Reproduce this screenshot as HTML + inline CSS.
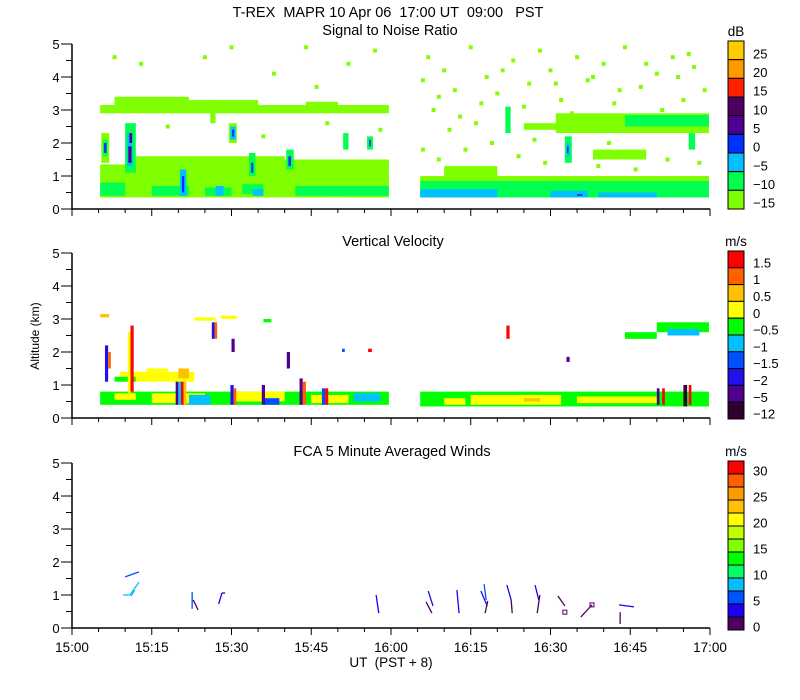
<!DOCTYPE html>
<html><head><meta charset="utf-8"><style>
html,body{margin:0;padding:0;background:#fff;}
svg{display:block;font-family:"Liberation Sans",sans-serif;}
text{fill:#000;}
</style></head><body>
<svg id="chart" width="800" height="700" viewBox="0 0 800 700" xmlns="http://www.w3.org/2000/svg">
<text x="388" y="17" font-size="14.5" text-anchor="middle" xml:space="preserve">T-REX  MAPR 10 Apr 06  17:00 UT  09:00   PST</text>
<text x="390" y="35" font-size="14.5" text-anchor="middle">Signal to Noise Ratio</text>
<text x="393" y="246" font-size="14.5" text-anchor="middle">Vertical Velocity</text>
<text x="392" y="456" font-size="14.5" text-anchor="middle">FCA 5 Minute Averaged Winds</text>
<text x="39" y="336" font-size="12" text-anchor="middle" transform="rotate(-90 39 336)">Altitude (km)</text>
<text x="391" y="667" font-size="13.5" text-anchor="middle" xml:space="preserve">UT  (PST + 8)</text>
<g id="layers"></g>
</svg>
<script>
// ---- data ----
const snrLevels = ['25','20','15','10','5','0','-5','-10','-15'];
const snrColors = ['#80ff00','#00ff50','#00c0ff','#0030ff','#500090','#500060','#ff2000','#ff9900','#ffcc00'];
const velLevels = ['1.5','1','0.5','0','-0.5','-1','-1.5','-2','-5','-12'];
const velColors = ['#300030','#500090','#2010f0','#0050ff','#00c0ff','#00ff00','#ffff00','#ffc000','#ff6000','#ff0000'];
const windLevels = ['30','','25','','20','','15','','10','','5','','0'];
const windColors = ['#500060','#2000f0','#0050ff','#00c0ff','#00ff60','#00ff00','#80ff00','#c0ff00','#ffff00','#ffc000','#ff9900','#ff6000','#ff0000'];
const xTickLabels = ['15:00','15:15','15:30','15:45','16:00','16:15','16:30','16:45','17:00'];
const yTickLabels = ['0','1','2','3','4','5'];
// SNR cells: [tStartMin, tEndMin, altLowKm, altHighKm, levelIndex]
const snrCells = [
[5.3,59.6,0.35,1.0,0],[5.3,59.6,0.95,1.35,0],[12,40,1.35,1.6,0],[40,59.6,1.3,1.5,0],
[5.3,59.6,2.9,3.15,0],[8,22,3.15,3.4,0],[22,35,3.1,3.3,0],[44,50,3.1,3.25,0],
[5.3,10,0.4,0.8,1],[15,22,0.4,0.7,1],[25,30,0.4,0.65,1],[42,59.6,0.4,0.7,1],[32,36,0.45,0.75,1],
[5.5,7,1.4,2.3,0],[5.8,6.7,1.6,2.1,1],[6,6.5,1.7,2.0,3],
[10,12,1.1,2.6,1],[10.4,11.4,1.3,2.3,2],[10.6,11.2,1.4,1.9,4],[10.8,11.3,2.0,2.3,4],
[20.3,21.5,0.4,1.2,2],[20.7,21.1,0.5,1.0,3],
[29.5,31,2.0,2.6,0],[29.8,30.8,2.1,2.5,2],[30.1,30.5,2.2,2.4,3],
[33.3,34.5,1.0,1.7,1],[33.7,34.1,1.1,1.4,3],
[40.3,41.7,1.2,1.8,1],[40.7,41.2,1.3,1.6,3],[26,27,2.6,3.3,0],
[51,52,1.8,2.3,1],[55.5,56.6,1.8,2.2,1],[55.9,56.2,1.9,2.1,3],
[27,28.5,0.4,0.7,2],[34,36,0.4,0.6,2],[49,51,0.4,0.6,1],
[65.5,119.8,0.35,1.0,0],[65.5,119.8,0.35,0.85,1],
[65.5,80,0.35,0.6,2],[90,97,0.35,0.55,2],[99,110,0.35,0.5,2],[95,96,0.4,0.45,3],
[70,80,1.0,1.3,0],[91,119.8,2.3,2.9,0],[104,119.8,2.5,2.85,1],
[81.5,82.5,2.3,3.1,1],[92.7,94,1.4,2.2,1],[93,93.6,1.6,2.0,2],[93.1,93.4,1.7,1.9,3],
[116,117.2,1.8,2.3,1],[98,108,1.5,1.8,0],[85,92,2.4,2.6,0]
];
// SNR isolated speckles: [tMin, altKm]
const snrSpeckles = [
[13,4.4],[25,4.6],[38,4.1],[46,3.7],[52,4.4],[57,4.8],[8,4.6],[30,4.9],[44,4.9],[18,2.5],[36,2.2],[48,2.6],[58,2.4],
[67,4.6],[70,4.2],[72,3.6],[75,4.9],[78,4.0],[80,3.5],[83,4.5],[86,3.8],[88,4.8],[90,4.2],
[92,3.3],[95,4.6],[97,3.9],[100,4.4],[102,3.2],[104,4.9],[107,3.7],[110,4.1],[113,4.6],[117,4.3],
[68,3.0],[71,2.4],[74,1.8],[77,3.2],[79,2.0],[84,1.6],[87,2.1],[89,1.4],[96,2.6],[99,1.3],
[101,2.0],[106,1.2],[112,1.5],[118,1.4],[66,1.8],[69,1.5],[73,2.8],[115,3.3],[119,3.6],
[66,3.9],[69,3.4],[76,2.6],[81,4.2],[85,3.1],[91,3.8],[94,2.9],[98,4.0],[103,3.6],[108,4.4],[111,3.0],[114,4.0],[116,4.7]
];
// Vertical velocity cells: [tStartMin, tEndMin, altLowKm, altHighKm, levelIndex]
const velCells = [
[5.3,59.6,0.4,0.8,5],[15,25,0.45,0.75,6],[30,40,0.5,0.8,6],[45,52,0.45,0.7,6],[22,26,0.4,0.7,4],
[8,12,0.55,0.75,6],[36,39,0.4,0.6,3],[53,58,0.5,0.75,4],
[19.5,20,0.4,1.3,1],[20,20.5,0.4,1.3,4],[20.5,21,0.4,1.3,9],[21,21.5,0.4,1.1,7],
[29.8,30.4,0.4,1.0,2],[30.4,30.9,0.4,0.9,8],[35.7,36.3,0.4,1.0,1],
[42.8,43.4,0.4,1.2,1],[43.4,44,0.4,1.1,8],[47,47.6,0.4,0.9,3],[47.6,48.2,0.4,0.9,9],
[9,23,1.1,1.4,6],[8,12,1.1,1.25,5],[14,18,1.3,1.5,6],[20,22,1.2,1.5,7],
[6.2,6.8,1.1,2.2,2],[6.8,7.3,1.5,2.0,8],[10.5,11,0.6,2.6,6],[11,11.6,0.8,2.8,9],
[26.3,26.8,2.4,2.9,2],[26.8,27.3,2.4,2.9,8],[30,30.6,2.0,2.4,1],[40.4,41,1.5,2.0,1],
[50.8,51.3,2.0,2.1,3],[55.7,56.4,2.0,2.1,9],
[5.3,7,3.05,3.15,7],[23,27,2.95,3.05,6],[28,31,3.0,3.1,6],[36,37.5,2.9,3.0,5],
[65.5,119.8,0.35,0.8,5],[75,92,0.4,0.7,6],[95,110,0.45,0.65,6],[70,74,0.4,0.6,6],[85,88,0.5,0.6,7],
[110,110.5,0.4,0.9,1],[111,111.5,0.4,0.9,9],[115,115.7,0.35,1.0,0],[116,116.5,0.4,1.0,9],
[110,119.8,2.6,2.9,5],[104,110,2.4,2.6,5],[112,118,2.5,2.7,4],
[81.7,82.3,2.4,2.8,9],[93,93.6,1.7,1.85,1]
];
// Wind barb segments: [t1Min, alt1Km, t2Min, alt2Km, colorIndex]
const windSegs = [
[10.0,1.55,12.6,1.70,2],[9.6,1.0,10.9,1.0,3],[10.9,1.0,12.6,1.39,3],[11.8,1.15,11.1,0.97,3],
[22.6,1.09,22.6,0.58,2],[22.8,0.85,23.7,0.55,0],
[27.6,0.73,28.2,1.06,1],[28.2,1.06,28.8,1.06,1],
[57.2,1.0,57.7,0.45,1],
[67.0,1.12,67.9,0.67,1],[66.6,0.79,67.7,0.45,0],
[72.4,1.15,72.8,0.45,1],
[77.5,1.33,77.9,0.85,2],[76.9,1.12,78.1,0.67,1],[78.2,0.82,77.7,0.45,0],
[81.8,1.30,82.6,0.85,1],[82.6,0.85,82.8,0.45,0],
[87.1,1.30,87.8,0.85,1],[88.0,1.0,87.5,0.45,0],
[91.4,0.97,92.7,0.67,0],
[97.8,0.70,95.7,0.33,0],
[102.9,0.70,105.7,0.64,1],[103.1,0.48,103.1,0.12,0]
];
// Small station squares (calm winds): [tMin, altKm]
const windCalm = [[92.7,0.48],[97.8,0.70]];

// ---- scales ----
const NS='http://www.w3.org/2000/svg';
const root=document.getElementById('layers');
const X0=72,X1=710,PXKM=33;
const panels=[{base:209,name:'snr'},{base:418,name:'velocity'},{base:628,name:'winds'}];
function xs(t){return X0+t*(X1-X0)/120;}
function ys(a,p){return p.base-a*PXKM;}
function mk(tag,attrs,parent){const e=document.createElementNS(NS,tag);for(const k in attrs)e.setAttribute(k,attrs[k]);(parent||root).appendChild(e);return e;}

function cells(arr,colors,p,g){
  arr.forEach(c=>{
    const r=mk('rect',{x:xs(c[0]),y:ys(c[3],p),width:xs(c[1])-xs(c[0]),height:(c[3]-c[2])*PXKM,fill:colors[c[4]]},g);
    
    
  });
}
const g1=mk('g',{});


cells(snrCells,snrColors,panels[0],g1);
snrSpeckles.forEach(s=>{
  const r=mk('rect',{x:xs(s[0])-2,y:ys(s[1],panels[0])-2,width:4,height:4,fill:snrColors[0]},g1);
  
  
});
const g2=mk('g',{});


cells(velCells,velColors,panels[1],g2);
const g3=mk('g',{});


windSegs.forEach(s=>{
  const l=mk('line',{x1:xs(s[0]),y1:ys(s[1],panels[2]),x2:xs(s[2]),y2:ys(s[3],panels[2]),stroke:windColors[s[4]],'stroke-width':1.3},g3);
  
  
});
windCalm.forEach(s=>{
  const r=mk('rect',{x:xs(s[0])-2,y:ys(s[1],panels[2])-2,width:4,height:4,fill:'none',stroke:windColors[0],'stroke-width':1},g3);
  
  
});

panels.forEach((p,pi)=>{
  const g=mk('g',{});
  
  
  mk('line',{x1:X0,y1:ys(5,p),x2:X0,y2:p.base,stroke:'#000','stroke-width':1.5},g);
  mk('line',{x1:X0,y1:p.base,x2:X1,y2:p.base,stroke:'#000','stroke-width':1.5},g);
  for(let i=0;i<=10;i++){
    const y=ys(i/2,p);
    mk('line',{x1:X0-(i%2?6:11),y1:y,x2:X0,y2:y,stroke:'#000','stroke-width':1},g);
  }
  yTickLabels.forEach((lab,i)=>{
    const t=mk('text',{x:56,y:ys(i,p)+5,'font-size':13,'text-anchor':'middle'},g);t.textContent=lab;
    
    
  });
  for(let i=0;i<=24;i++){
    const x=xs(i*5);
    mk('line',{x1:x,y1:p.base,x2:x,y2:p.base+(i%3?4:7),stroke:'#000','stroke-width':1},g);
  }
});
xTickLabels.forEach((lab,i)=>{
  const t=mk('text',{x:xs(i*15),y:652,'font-size':13.5,'text-anchor':'middle'});t.textContent=lab;
  
  
});

function colorbar(levels,colors,top,bottom,unit,name){
  const g=mk('g',{});
  
  
  const n=colors.length,h=(bottom-top)/n;
  for(let i=0;i<n;i++){
    const ci=n-1-i;
    mk('rect',{x:728,y:top+i*h,width:16,height:h,fill:colors[ci],stroke:'#000','stroke-width':1},g);
    if(levels[i]){
      const t=mk('text',{x:753,y:top+i*h+h/2+8,'font-size':13},g);
      t.textContent=levels[i].replace('-','\u2212');
      
      
    }
  }
  const u=mk('text',{x:736,y:top-5,'font-size':13.5,'text-anchor':'middle'},g);u.textContent=unit;
  
  
}
colorbar(snrLevels,snrColors,41,209,'dB','snr-colorbar');
colorbar(velLevels,velColors,251,419,'m/s','velocity-colorbar');
colorbar(windLevels,windColors,461,630,'m/s','winds-colorbar');
</script>
</body></html>
